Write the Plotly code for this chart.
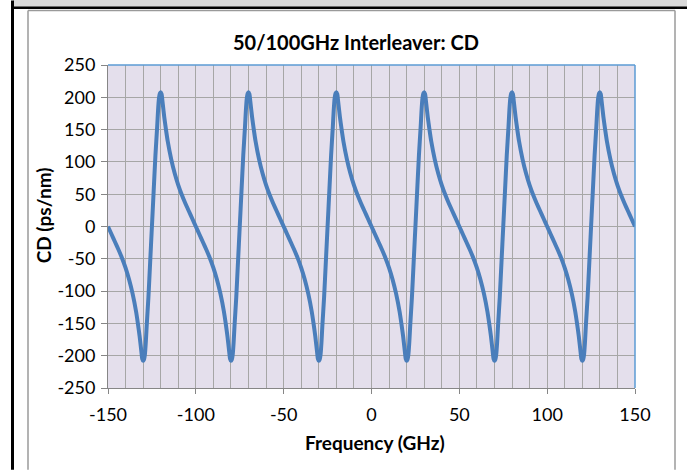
import plotly.graph_objects as go

# Frequency (GHz) sample points, period by period
freq_p1 = [-150, -148, -146, -144, -142, -140, -138, -136, -134, -133, -132, -131, -130.5, -130, -129.5, -129, -128.5, -128, -127, -126, -125, -124, -123, -122, -121.5, -121, -120.5, -120, -119.5, -119, -118, -117, -116, -114, -112, -110, -108, -106, -104, -102]
freq_p2 = [-100, -98, -96, -94, -92, -90, -88, -86, -84, -83, -82, -81, -80.5, -80, -79.5, -79, -78.5, -78, -77, -76, -75, -74, -73, -72, -71.5, -71, -70.5, -70, -69.5, -69, -68, -67, -66, -64, -62, -60, -58, -56, -54, -52]
freq_p3 = [-50, -48, -46, -44, -42, -40, -38, -36, -34, -33, -32, -31, -30.5, -30, -29.5, -29, -28.5, -28, -27, -26, -25, -24, -23, -22, -21.5, -21, -20.5, -20, -19.5, -19, -18, -17, -16, -14, -12, -10, -8, -6, -4, -2]
freq_p4 = [0, 2, 4, 6, 8, 10, 12, 14, 16, 17, 18, 19, 19.5, 20, 20.5, 21, 21.5, 22, 23, 24, 25, 26, 27, 28, 28.5, 29, 29.5, 30, 30.5, 31, 32, 33, 34, 36, 38, 40, 42, 44, 46, 48]
freq_p5 = [50, 52, 54, 56, 58, 60, 62, 64, 66, 67, 68, 69, 69.5, 70, 70.5, 71, 71.5, 72, 73, 74, 75, 76, 77, 78, 78.5, 79, 79.5, 80, 80.5, 81, 82, 83, 84, 86, 88, 90, 92, 94, 96, 98]
freq_p6 = [100, 102, 104, 106, 108, 110, 112, 114, 116, 117, 118, 119, 119.5, 120, 120.5, 121, 121.5, 122, 123, 124, 125, 126, 127, 128, 128.5, 129, 129.5, 130, 130.5, 131, 132, 133, 134, 136, 138, 140, 142, 144, 146, 148, 150]

# CD (ps/nm) values
cd_p1 = [0, -12, -24, -36, -49, -64, -82, -104, -132, -150, -170, -194, -205, -208, -206, -198, -180, -155, -110, -55, 0, 55, 110, 155, 180, 198, 206, 208, 205, 194, 170, 150, 132, 104, 82, 64, 49, 36, 24, 12]
cd_p2 = [0, -12, -24, -36, -49, -64, -82, -104, -132, -150, -170, -194, -205, -208, -206, -198, -180, -155, -110, -55, 0, 55, 110, 155, 180, 198, 206, 208, 205, 194, 170, 150, 132, 104, 82, 64, 49, 36, 24, 12]
cd_p3 = [0, -12, -24, -36, -49, -64, -82, -104, -132, -150, -170, -194, -205, -208, -206, -198, -180, -155, -110, -55, 0, 55, 110, 155, 180, 198, 206, 208, 205, 194, 170, 150, 132, 104, 82, 64, 49, 36, 24, 12]
cd_p4 = [0, -12, -24, -36, -49, -64, -82, -104, -132, -150, -170, -194, -205, -208, -206, -198, -180, -155, -110, -55, 0, 55, 110, 155, 180, 198, 206, 208, 205, 194, 170, 150, 132, 104, 82, 64, 49, 36, 24, 12]
cd_p5 = [0, -12, -24, -36, -49, -64, -82, -104, -132, -150, -170, -194, -205, -208, -206, -198, -180, -155, -110, -55, 0, 55, 110, 155, 180, 198, 206, 208, 205, 194, 170, 150, 132, 104, 82, 64, 49, 36, 24, 12]
cd_p6 = [0, -12, -24, -36, -49, -64, -82, -104, -132, -150, -170, -194, -205, -208, -206, -198, -180, -155, -110, -55, 0, 55, 110, 155, 180, 198, 206, 208, 205, 194, 170, 150, 132, 104, 82, 64, 49, 36, 24, 12, 0]

x_ticks = [-150, -100, -50, 0, 50, 100, 150]
y_ticks = [250, 200, 150, 100, 50, 0, -50, -100, -150, -200, -250]

title_text = "50/100GHz Interleaver: CD"
x_title = "Frequency (GHz)"
y_title = "CD (ps/nm)"

freq = freq_p1 + freq_p2 + freq_p3 + freq_p4 + freq_p5 + freq_p6
cd = cd_p1 + cd_p2 + cd_p3 + cd_p4 + cd_p5 + cd_p6

W, H = 687, 470
L, R, T, B = 108, 635, 64.5, 388  # plot area in pixels


def px(xp):
    return (xp - L) / (R - L)


def py(yp):
    return (B - yp) / (B - T)


FONT = "Lato, Carlito, Calibri, sans-serif"

fig = go.Figure()
fig.add_trace(go.Scatter(x=freq, y=cd, mode="lines",
                         line=dict(color="#4A7EBB", width=4, shape="spline", smoothing=0.7),
                         showlegend=False, hoverinfo="skip"))

grid_col = "#A6A6A6"
fig.update_layout(
    width=W, height=H,
    margin=dict(l=L, r=W - R, t=T, b=H - B, autoexpand=False),
    paper_bgcolor="white",
    plot_bgcolor="#E4DFEC",
    font=dict(family=FONT, color="#000000", size=18),
    xaxis=dict(range=[-150, 150], tickvals=x_ticks, ticktext=[str(v) for v in x_ticks],
               showgrid=True, gridcolor=grid_col, gridwidth=1,
               minor=dict(dtick=10, showgrid=True, gridcolor=grid_col, gridwidth=1),
               ticks="outside", ticklen=5, tickcolor="#868686",
               showline=True, linecolor="#868686", linewidth=1,
               zeroline=False, tickfont=dict(size=18, family=FONT),
               ticklabelstandoff=5, automargin=False),
    yaxis=dict(range=[-250, 250], tickvals=y_ticks, ticktext=[str(v) for v in y_ticks],
               showgrid=True, gridcolor=grid_col, gridwidth=1,
               ticks="outside", ticklen=6, tickcolor="#868686",
               showline=True, linecolor="#868686", linewidth=1,
               zeroline=False, tickfont=dict(size=18, family=FONT),
               ticklabelstandoff=2, automargin=False),
)

shapes = []
# grey band at top and black frame lines (pixel-sized, anchored to plot top)
shapes.append(dict(type="rect", xref="paper", yref="paper", ysizemode="pixel", yanchor=1,
                   x0=px(13), x1=px(687), y0=T - 7, y1=T + 2,
                   fillcolor="#D9D9D9", line=dict(width=0)))
shapes.append(dict(type="rect", xref="paper", yref="paper", ysizemode="pixel", yanchor=1,
                   x0=px(13), x1=px(687), y0=T - 8.5, y1=T - 6,
                   fillcolor="#000000", line=dict(width=0)))
shapes.append(dict(type="rect", xref="paper", yref="paper", x0=px(11), x1=px(14), y0=py(470), y1=py(0),
                   fillcolor="#000000", line=dict(width=0)))
# chart area border
shapes.append(dict(type="line", xref="paper", yref="paper", x0=px(28), x1=px(28), y0=py(10), y1=py(470),
                   line=dict(color="#9A9A9A", width=1.5)))
shapes.append(dict(type="line", xref="paper", yref="paper", x0=px(28), x1=px(675), y0=py(10), y1=py(10),
                   line=dict(color="#9A9A9A", width=1.5)))
shapes.append(dict(type="line", xref="paper", yref="paper", x0=px(675), x1=px(675), y0=py(10), y1=py(470),
                   line=dict(color="#9A9A9A", width=1.5)))
# plot area top/right border (blue)
shapes.append(dict(type="line", xref="paper", yref="paper", x0=0, x1=1, y0=1, y1=1,
                   line=dict(color="#5B9BD5", width=1.5)))
shapes.append(dict(type="line", xref="paper", yref="paper", x0=1, x1=1, y0=0, y1=1,
                   line=dict(color="#5B9BD5", width=1.5)))
fig.update_layout(shapes=shapes)

fig.add_annotation(text="<b>" + title_text + "</b>", xref="paper", yref="paper",
                   x=px(356), y=py(41), showarrow=False, xanchor="center", yanchor="middle",
                   font=dict(size=20, family=FONT, color="#000000"))
fig.add_annotation(text="<b>" + x_title + "</b>", xref="paper", yref="paper",
                   x=px(375), y=py(443), showarrow=False, xanchor="center", yanchor="middle",
                   font=dict(size=19, family=FONT, color="#000000"))
fig.add_annotation(text="<b>" + y_title + "</b>", xref="paper", yref="paper",
                   x=px(43), y=py(215), showarrow=False, xanchor="center", yanchor="middle",
                   textangle=-90, font=dict(size=19, family=FONT, color="#000000"))

fig.write_html("out.html", config={"displayModeBar": False},
               post_script="document.body.style.margin='0';document.body.style.overflow='hidden';")
